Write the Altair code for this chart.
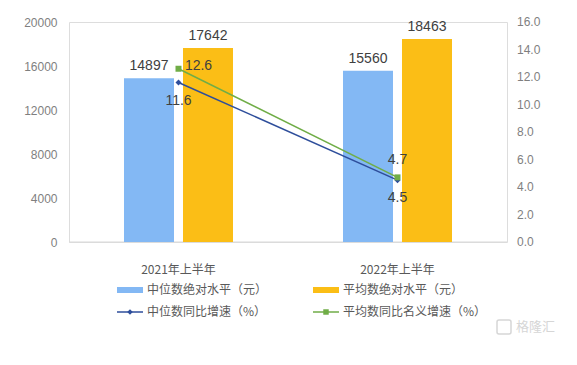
import altair as alt
import pandas as pd

periods = ["2021年上半年", "2022年上半年"]
bar_series = ["中位数绝对水平（元）", "平均数绝对水平（元）"]
line_series = ["中位数同比增速（%）", "平均数同比名义增速（%）"]
median_income = [14897, 15560]
mean_income = [17642, 18463]
median_growth = [11.6, 4.5]
mean_growth = [12.6, 4.7]
left_ticks = [0, 4000, 8000, 12000, 16000, 20000]
right_ticks = [0, 2, 4, 6, 8, 10, 12, 14, 16]

BLUE_BAR = "#83B8F4"
ORANGE_BAR = "#FBBE16"
BLUE_LINE = "#2E4E9B"
GREEN_LINE = "#70AD47"
CJK = "Noto Sans CJK SC"
NUM = "Liberation Sans"
TXT = "#404040"
TICK = "#7F7F7F"
LEG = "#595959"

bars_df = pd.DataFrame({
    "period": periods * 2,
    "series": [bar_series[0]] * 2 + [bar_series[1]] * 2,
    "value": median_income + mean_income,
})
lines_df = pd.DataFrame({
    "period": periods * 2,
    "series": [line_series[0]] * 2 + [line_series[1]] * 2,
    "value": median_growth + mean_growth,
})
rticks_df = pd.DataFrame({"tick": right_ticks})

x_axis = alt.Axis(title=None, labelAngle=0, ticks=False, grid=False, domain=False,
                  labelPadding=22, labelFont=CJK, labelFontSize=12, labelColor=LEG)
x_scale = alt.Scale(domain=periods, paddingInner=0, paddingOuter=0)


def xm():
    return alt.X("period:N", sort=periods, scale=x_scale, axis=x_axis)


x_off = alt.XOffset(
    "series:N", sort=bar_series,
    scale=alt.Scale(domain=bar_series, paddingInner=0.1525, paddingOuter=0.932),
)
left_axis = alt.Axis(title=None, values=left_ticks, format="d", domain=False,
                     ticks=False, grid=False, labelPadding=12, labelFont=NUM,
                     labelFontSize=12, labelColor=TICK, labelOverlap=False)
l_scale = alt.Scale(domain=[0, 20000])
r_scale = alt.Scale(domain=[0, 16])


def yl():
    return alt.Y("value:Q", scale=l_scale, axis=left_axis)


def yr():
    return alt.Y("value:Q", scale=r_scale, axis=None)


bar_color = alt.Color("series:N", scale=alt.Scale(domain=bar_series, range=[BLUE_BAR, ORANGE_BAR]), legend=None)
line_color = alt.Color("series:N", scale=alt.Scale(domain=line_series, range=[BLUE_LINE, GREEN_LINE]), legend=None)
line_shape = alt.Shape("series:N", scale=alt.Scale(domain=line_series, range=["diamond", "square"]), legend=None)

bars_base = alt.Chart(bars_df)
bars = bars_base.mark_bar().encode(x=xm(), xOffset=x_off, y=yl(), color=bar_color)
bar_text = bars_base.mark_text(dy=-12, fontSize=14, font=NUM, color=TXT).encode(
    x=xm(), xOffset=x_off, y=yl(), text=alt.Text("value:Q", format="d"))
baseline = alt.Chart(pd.DataFrame({"z": [0]})).mark_rule(color="#D9D9D9", strokeWidth=1).encode(
    y=alt.Y("z:Q", scale=l_scale, axis=left_axis))
bar_group = alt.layer(baseline, bars, bar_text)

lines_base = alt.Chart(lines_df)
lines = lines_base.mark_line(strokeWidth=1.5).encode(x=xm(), y=yr(), color=line_color)
points = lines_base.mark_point(filled=True, size=36, opacity=1).encode(
    x=xm(), y=yr(), color=line_color, shape=line_shape)
med_text = lines_base.transform_filter(alt.datum.series == line_series[0]).mark_text(
    dy=18, fontSize=14, font=NUM, color=TXT).encode(
    x=xm(), y=yr(), text=alt.Text("value:Q", format=".1f"))
mean_text_a = lines_base.transform_filter(
    (alt.datum.series == line_series[1]) & (alt.datum.period == periods[0])).mark_text(
    dx=20, dy=-3, fontSize=14, font=NUM, color=TXT).encode(
    x=xm(), y=yr(), text=alt.Text("value:Q", format=".1f"))
mean_text_b = lines_base.transform_filter(
    (alt.datum.series == line_series[1]) & (alt.datum.period == periods[1])).mark_text(
    dy=-17, fontSize=14, font=NUM, color=TXT).encode(
    x=xm(), y=yr(), text=alt.Text("value:Q", format=".1f"))
# right-hand axis labels, placed through the same right scale
right_labels = alt.Chart(rticks_df).mark_text(
    align="left", baseline="middle", font=NUM, fontSize=12, color=TICK).encode(
    x=alt.value(448), y=alt.Y("tick:Q", scale=r_scale, axis=None),
    text=alt.Text("tick:Q", format=".1f"))
line_group = alt.layer(lines, points, med_text, mean_text_a, mean_text_b, right_labels)

one = alt.Chart(pd.DataFrame({"k": [0]}))
leg = [
    one.mark_rect(color=BLUE_BAR).encode(x=alt.value(48), x2=alt.value(74), y=alt.value(265), y2=alt.value(271)),
    one.mark_text(align="left", baseline="middle", font=CJK, fontSize=12, color=LEG).encode(
        x=alt.value(78), y=alt.value(268), text=alt.value(bar_series[0])),
    one.mark_rect(color=ORANGE_BAR).encode(x=alt.value(244), x2=alt.value(270), y=alt.value(265), y2=alt.value(271)),
    one.mark_text(align="left", baseline="middle", font=CJK, fontSize=12, color=LEG).encode(
        x=alt.value(274), y=alt.value(268), text=alt.value(bar_series[1])),
    one.mark_rect(color=BLUE_LINE).encode(x=alt.value(48), x2=alt.value(74), y=alt.value(289.25), y2=alt.value(290.75)),
    one.mark_point(filled=True, shape="diamond", size=30, color=BLUE_LINE, opacity=1).encode(
        x=alt.value(61), y=alt.value(290)),
    one.mark_text(align="left", baseline="middle", font=CJK, fontSize=12, color=LEG).encode(
        x=alt.value(78), y=alt.value(290), text=alt.value(line_series[0])),
    one.mark_rect(color=GREEN_LINE).encode(x=alt.value(244), x2=alt.value(270), y=alt.value(289.25), y2=alt.value(290.75)),
    one.mark_point(filled=True, shape="square", size=30, color=GREEN_LINE, opacity=1).encode(
        x=alt.value(257), y=alt.value(290)),
    one.mark_text(align="left", baseline="middle", font=CJK, fontSize=12, color=LEG).encode(
        x=alt.value(274), y=alt.value(290), text=alt.value(line_series[1])),
    one.mark_rect(filled=False, stroke="#D6D6D6", strokeWidth=1.5, cornerRadius=2).encode(
        x=alt.value(428), x2=alt.value(442), y=alt.value(298), y2=alt.value(312)),
    one.mark_text(align="left", baseline="middle", font=CJK, fontSize=13, color="#D6D6D6").encode(
        x=alt.value(447), y=alt.value(305), text=alt.value("格隆汇")),
]

chart = alt.layer(bar_group, line_group, *leg).resolve_scale(
    y="independent", color="independent", shape="independent"
).properties(
    width=438, height=220,
    autosize=alt.AutoSizeParams(type="none"),
    padding={"left": 61, "top": 14, "right": 62, "bottom": 115},
).configure_view(stroke="transparent", strokeWidth=0, strokeOpacity=0).configure_axis(
    grid=False, domain=False, ticks=False
).configure(background="white")

chart.save("out.html", embed_options={"renderer": "svg", "actions": False})
